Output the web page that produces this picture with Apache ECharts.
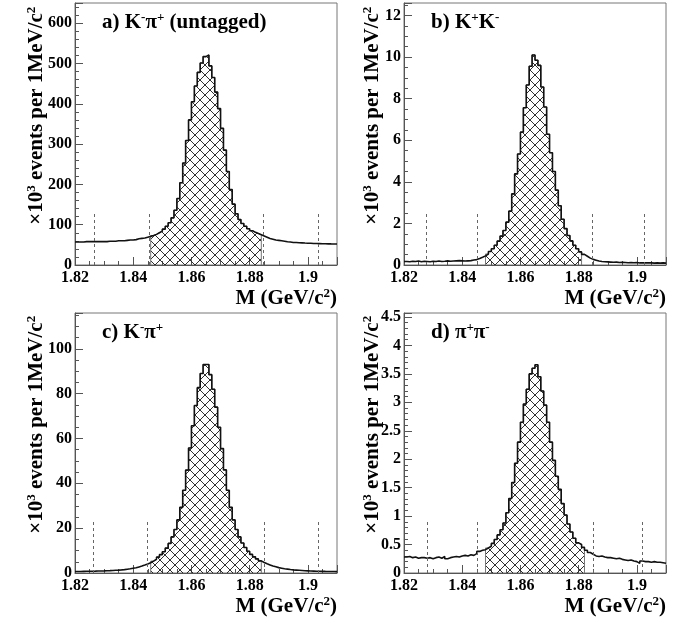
<!DOCTYPE html>
<html><head><meta charset="utf-8">
<script src="https://cdn.jsdelivr.net/npm/echarts@6/dist/echarts.min.js"></script>
<style>html,body{margin:0;padding:0;background:#fff}#c{width:686px;height:625px}</style>
</head><body><div id="c"></div>
<script>
// Binning: 1 MeV bins from 1.820 to 1.910 GeV/c^2
const binLow = 1.820, binWidth = 0.001, nBins = 90;
const xTicks = [1.82, 1.84, 1.86, 1.88, 1.9];

// x10^3 events per 1 MeV/c^2
const kpiUntagged = [
  57,57,57,58,58,58,58,58,58,58,
  58,59,59,59,60,60,60,61,62,62,
  63,65,66,67,69,71,73,76,80,84,
  89,96,105,117,136,165,204,253,309,360,
  405,444,478,501,517,521,494,465,429,388,
  339,285,232,187,151,127,113,103,96,90,
  85,81,78,75,72,69,66,64,62,61,
  60,59,57.5,57,56,55.8,55.2,54.8,54.4,54.1,
  53.8,53.5,53.3,53.1,52.9,52.6,52.5,52.3,52.2,52
];
const kk = [
  0.17,0.16,0.18,0.17,0.19,0.16,0.18,0.17,0.16,0.18,
  0.17,0.19,0.17,0.18,0.20,0.18,0.19,0.20,0.21,0.20,
  0.19,0.20,0.21,0.24,0.26,0.31,0.37,0.44,0.53,0.65,
  0.78,0.95,1.15,1.39,1.66,2.06,2.59,3.42,4.38,5.34,
  6.39,7.56,8.66,9.56,10.1,9.85,9.6,8.56,7.6,6.29,
  5.4,4.5,3.6,2.85,2.2,1.75,1.42,1.16,0.95,0.78,
  0.63,0.51,0.42,0.33,0.27,0.23,0.19,0.17,0.16,0.15,
  0.14,0.13,0.14,0.12,0.13,0.12,0.11,0.12,0.11,0.12,
  0.10,0.11,0.10,0.11,0.10,0.09,0.10,0.09,0.10,0.09
];
const kpi = [
  0.7,0.7,0.73,0.75,0.78,0.8,0.82,0.86,0.9,0.93,
  0.99,1.05,1.13,1.22,1.29,1.38,1.52,1.7,1.87,2.12,
  2.35,2.72,3.09,3.55,4.02,4.57,5.31,6.14,7.07,8.18,
  9.47,11.1,13.2,16.1,19.4,23.7,29.3,36.9,45.9,55.8,
  65.7,74.7,82.7,89.0,93.0,93.0,88.5,82.0,74.0,65.0,
  55.5,46.0,36.9,29.3,23.7,19.4,16.1,13.4,11.4,9.7,
  8.3,7.2,6.3,5.4,4.7,4.1,3.6,3.1,2.8,2.4,
  2.15,1.9,1.73,1.54,1.4,1.3,1.2,1.1,1.0,0.95,
  0.9,0.85,0.8,0.77,0.74,0.71,0.69,0.67,0.65,0.63
];
const pipi = [
  0.28,0.29,0.27,0.28,0.26,0.27,0.27,0.26,0.27,0.25,
  0.27,0.28,0.26,0.29,0.25,0.27,0.28,0.29,0.28,0.30,
  0.31,0.30,0.32,0.31,0.34,0.38,0.40,0.41,0.44,0.47,
  0.52,0.59,0.67,0.76,0.88,1.06,1.31,1.59,1.93,2.30,
  2.65,2.97,3.23,3.50,3.60,3.66,3.45,3.20,2.95,2.65,
  2.30,1.98,1.70,1.47,1.22,1.02,0.86,0.72,0.61,0.53,
  0.50,0.45,0.40,0.36,0.33,0.30,0.29,0.30,0.28,0.27,
  0.27,0.26,0.25,0.26,0.24,0.23,0.22,0.23,0.21,0.20,
  0.17,0.21,0.20,0.20,0.19,0.20,0.19,0.19,0.18,0.17
];

// signal (hatched) bin ranges, inclusive bin indices
const hatchBinsA = [26, 63], hatchBinsB = [28, 60], hatchBinsC = [26, 63], hatchBinsD = [28, 61];
// dashed sideband/signal boundaries (GeV/c^2) and their heights
const cutsA = [1.8265, 1.8455, 1.8845, 1.9035], cutHA = 130;
const cutsB = [1.8275, 1.8450, 1.8848, 1.9025], cutHB = 2.5;
const cutsC = [1.8263, 1.8447, 1.8850, 1.9035], cutHC = 23;
const cutsD = [1.8280, 1.8452, 1.8850, 1.9020], cutHD = 0.9;

// y axes
const yMaxs = [650, 12.6, 116, 4.57];
const yIntervals = [100, 2, 20, 0.5];
const yMinorSplits = [5, 4, 4, 5];

const labels = [
  '{b|a) K}{s|-}{b|π}{s|+}{b| (untagged)}',
  '{b|b) K}{s|+}{b|K}{s|-}',
  '{b|c) K}{s|-}{b|π}{s|+}',
  '{b|d) π}{s|+}{b|π}{s|-}'
];

// ---- layout ----
const grids = [
  {left:75, top:3, width:262, height:262},
  {left:404, top:3, width:262, height:262},
  {left:75, top:313, width:262, height:260},
  {left:404, top:313, width:262, height:260}
];
const FONT = 'Liberation Serif, Times New Roman, serif';
const rich = {
  b: {fontFamily: FONT, fontWeight: 'bold', fontSize: 21, color: '#000', lineHeight: 24},
  s: {fontFamily: FONT, fontWeight: 'bold', fontSize: 13, color: '#000', lineHeight: 12, verticalAlign: 'top'}
};

const edges = [];
for (let i = 0; i <= nBins; i++) edges.push(+(binLow + i * binWidth).toFixed(4));

function hatchPattern() {
  const c = document.createElement('canvas');
  c.width = 10; c.height = 10;
  const g = c.getContext('2d');
  g.strokeStyle = '#1a1a1a'; g.lineWidth = 0.9;
  g.beginPath();
  for (const k of [-10, 0, 10]) {
    g.moveTo(k, 0); g.lineTo(k + 10, 10);
    g.moveTo(k + 10, 0); g.lineTo(k, 10);
  }
  g.stroke();
  return c;
}
const pattern = {image: hatchPattern(), repeat: 'repeat'};

const datasets = [kpiUntagged, kk, kpi, pipi];
const hatches = [hatchBinsA, hatchBinsB, hatchBinsC, hatchBinsD];
const cuts = [[cutsA, cutHA], [cutsB, cutHB], [cutsC, cutHC], [cutsD, cutHD]];

const xAxes = [], yAxes = [], series = [], graphics = [];
for (let p = 0; p < 4; p++) {
  const vals = datasets[p];
  xAxes.push({
    type: 'value', gridIndex: p, min: 1.82, max: 1.91, interval: 0.02,
    axisLine: {show: true, lineStyle: {color: '#555', width: 1}},
    axisTick: {inside: true, length: 8, lineStyle: {color: '#555'}},
    minorTick: {show: true, splitNumber: 4, length: 4, lineStyle: {color: '#555'}},
    splitLine: {show: false},
    axisLabel: {fontFamily: FONT, fontWeight: 'bold', fontSize: 16, color: '#000', margin: 5,
      showMaxLabel: false,
      formatter: v => { const r = +(+v).toFixed(3); return xTicks.some(t => Math.abs(t - r) < 1e-6) ? String(r) : ''; }}
  });
  yAxes.push({
    type: 'value', gridIndex: p, min: 0, max: yMaxs[p], interval: yIntervals[p],
    axisLine: {show: true, lineStyle: {color: '#555', width: 1}},
    axisTick: {inside: true, length: 8, lineStyle: {color: '#555'}},
    minorTick: {show: true, splitNumber: yMinorSplits[p], length: 4, lineStyle: {color: '#555'}},
    splitLine: {show: false},
    axisLabel: {fontFamily: FONT, fontWeight: 'bold', fontSize: 16, color: '#000', margin: 3,
      showMaxLabel: false,
      formatter: v => String(+(+v).toFixed(3))}
  });
  // hatched signal region
  const [lo, hi] = hatches[p];
  const hd = [[edges[lo], 0]];
  for (let i = lo; i <= hi; i++) hd.push([edges[i], vals[i]]);
  hd.push([edges[hi + 1], vals[hi]]);
  hd.push([edges[hi + 1], 0]);
  series.push({
    type: 'line', xAxisIndex: p, yAxisIndex: p, step: 'end', data: hd,
    showSymbol: false, symbol: 'none', silent: true,
    lineStyle: {color: '#777', width: 1},
    areaStyle: {color: pattern, opacity: 1}
  });
  // histogram outline
  const md = vals.map((v, i) => [edges[i], v]);
  md.push([edges[nBins], vals[nBins - 1]]);
  const [cx, ch] = cuts[p];
  series.push({
    type: 'line', xAxisIndex: p, yAxisIndex: p, step: 'end', data: md,
    showSymbol: false, symbol: 'none', silent: true,
    lineStyle: {color: '#111', width: 1.6},
    markLine: {
      symbol: ['none', 'none'], silent: true, label: {show: false}, animation: false,
      lineStyle: {type: [3, 3], color: '#666', width: 1},
      data: cx.map(x => [{coord: [x, 0]}, {coord: [x, ch]}])
    }
  });
  const g = grids[p];
  const right = g.left + g.width;
  const bottom = g.top + g.height;
  // panel label
  graphics.push({type: 'text', x: g.left + 27, y: g.top + 20, silent: true,
    style: {text: labels[p], rich, align: 'left', verticalAlign: 'middle', textAlign: 'left', textVerticalAlign: 'middle'}});
  // x title
  graphics.push({type: 'text', x: right, y: bottom + 34, silent: true,
    style: {text: '{b|M (GeV/c}{s|2}{b|)}', rich, align: 'right', verticalAlign: 'middle', textAlign: 'right', textVerticalAlign: 'middle'}});
  // y title
  graphics.push({type: 'text', x: g.left - (p % 2 === 0 ? 38 : 31), y: g.top + g.height * 0.43, rotation: Math.PI / 2, silent: true,
    style: {text: '{b|×10}{s|3}{b| events per 1MeV/c}{s|2}', rich, align: 'center', verticalAlign: 'middle', textAlign: 'center', textVerticalAlign: 'middle'}});
}

const chart = echarts.init(document.getElementById('c'), null, {renderer: 'canvas'});
chart.setOption({
  animation: false,
  backgroundColor: '#fff',
  grid: grids.map(g => Object.assign({show: true, borderColor: '#777', borderWidth: 1, backgroundColor: 'transparent'}, g)),
  xAxis: xAxes,
  yAxis: yAxes,
  series,
  graphic: graphics
});
</script></body></html>
